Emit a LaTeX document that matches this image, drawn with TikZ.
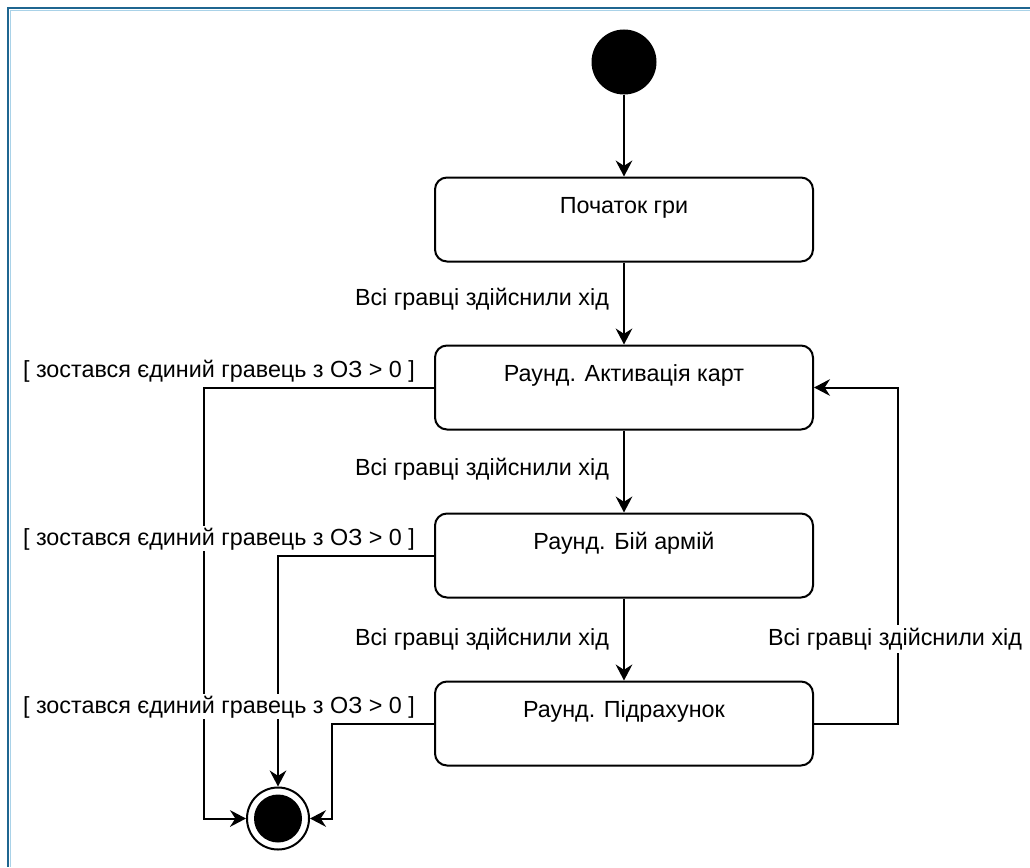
\documentclass[tikz,border=0pt]{standalone}
\usepackage{fontspec}
\setmainfont{Liberation Sans}
\usetikzlibrary{arrows.meta,calc}
\definecolor{framedark}{HTML}{1F6690}
\definecolor{framelight}{HTML}{A9D2E8}
\tikzset{
  stepbox/.style={draw, line width=1.5pt, rounded corners=9pt,
    minimum width=283.5pt, minimum height=63pt, inner sep=0pt},
  txt/.style={font=\fontsize{17.5}{21}\selectfont, inner sep=0pt, anchor=base},
  guard/.style={txt, fill=white, inner sep=1pt},
  arr/.style={line width=1.5pt, -{Stealth[length=12pt,width=12.5pt,inset=4pt]}},
  startdot/.style={circle, fill=black, minimum size=48.75pt, inner sep=0pt},
  enddot/.style={circle, draw, line width=1.5pt, fill=white, minimum size=46.5pt, inner sep=0pt},
}
\begin{document}
\begin{tikzpicture}[x=0.75pt,y=-0.75pt]
  \useasboundingbox (0,0) rectangle (1030,867);
  % outer frame
  \draw[framelight, line width=1pt] (1030,10.5) -- (10.5,10.5) -- (10.5,867);
  \draw[framedark, line width=1.6pt] (1030,8) -- (8,8) -- (8,867);

  % states
  \node[startdot] (ini) at (624,62) {};
  \node[stepbox] (s1) at (624,219.5) {};
  \node[stepbox] (s2) at (624,387.5) {};
  \node[stepbox] (s3) at (624,555.5) {};
  \node[stepbox] (s4) at (624,723.5) {};
  \node[enddot] (fin) at (278,818.5) {};
  \fill (fin.center) circle (24);

  \node[txt] (t1) at (624,213) {Початок гри};
  \node[txt] (t2) at (624,381) {Раунд. Активація карт};
  \node[txt] (t3) at (624,549) {Раунд. Бій армій};
  \node[txt] (t4) at (624,717) {Раунд. Підрахунок};

  % transitions
  \draw[arr] (ini) -- (s1);
  \draw[arr] (s1) -- (s2);
  \draw[arr] (s2) -- (s3);
  \draw[arr] (s3) -- (s4);
  \draw[arr] (s2.west) -| ($(fin.west)+(-42,0)$) -- (fin.west);
  \draw[arr] (s3.west) -| (fin.north);
  \draw[arr] (s4.west) -| ($(fin.east)+(22,0)$) -- (fin.east);
  \draw[arr] (s4.east) -| ($(s2.east)+(84,0)$) -- (s2.east);

  % transition labels
  \node[txt] (m1) at (482,305) {Всі гравці здійснили хід};
  \node[txt] (m2) at (482,475) {Всі гравці здійснили хід};
  \node[txt] (m3) at (482,645) {Всі гравці здійснили хід};
  \node[guard, inner sep=2pt] (m4) at (895,645) {Всі гравці здійснили хід};
  \node[guard] (g1) at (219,377) {[ зостався єдиний гравець з ОЗ > 0 ]};
  \node[guard] (g2) at (219,545) {[ зостався єдиний гравець з ОЗ > 0 ]};
  \node[guard] (g3) at (219,713) {[ зостався єдиний гравець з ОЗ > 0 ]};
\end{tikzpicture}
\end{document}
